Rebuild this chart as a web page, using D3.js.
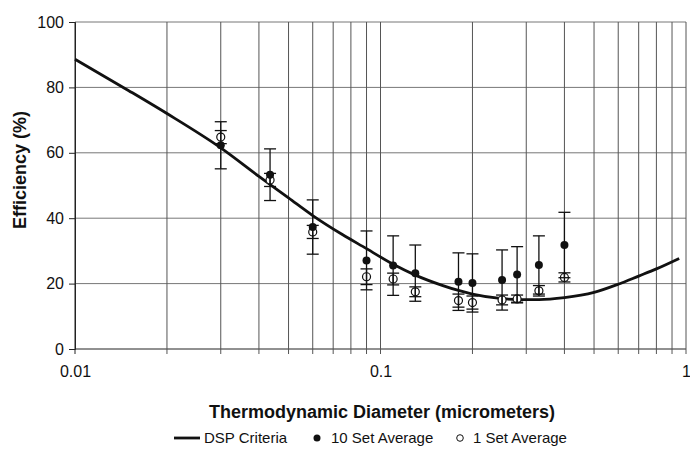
<!DOCTYPE html>
<html>
<head>
<meta charset="utf-8">
<script src="https://cdn.jsdelivr.net/npm/d3@7"></script>
<style>
  body { margin: 0; background: #fff; }
  text { font-family: "Liberation Sans", Arial, sans-serif; }
</style>
</head>
<body>
<script>
'use strict';

// measured particle sizes (micrometers)
const diameters = [0.03, 0.0435, 0.06, 0.09, 0.11, 0.13, 0.18, 0.2, 0.25, 0.28, 0.33, 0.4];
// 10 set average and its error bar half-height
const tenSetAvg = [62.3, 53.3, 37.3, 27.1, 25.5, 23.2, 20.6, 20.2, 21.1, 22.8, 25.7, 31.8];
const tenSetErr = [7.2, 7.9, 8.3, 9, 9.1, 8.6, 8.8, 8.9, 9.2, 8.5, 8.9, 10];
// 1 set average and its error bar half-height
const oneSetAvg = [64.8, 51.7, 35.8, 22.1, 21.4, 17.5, 14.8, 14.2, 15, 15.3, 17.8, 21.9];
const oneSetErr = [2, 2, 2, 2.4, 1.8, 1.5, 2, 2, 1.5, 1.2, 1.6, 1.4];
// DSP criteria curve
const dspDiameter = [0.01, 0.015, 0.02, 0.03, 0.04, 0.05, 0.06, 0.075, 0.09, 0.11, 0.13, 0.16, 0.18, 0.2, 0.25, 0.28, 0.33, 0.4, 0.5, 0.6, 0.7, 0.8, 0.95];
const dspEfficiency = [88.6, 79, 72, 61.5, 52.8, 46.2, 40.8, 35, 30.7, 25.9, 22.6, 19.4, 17.9, 16.8, 15.4, 15.1, 15.1, 15.7, 17.3, 19.8, 22.3, 24.5, 27.7];
// axis ticks
const yTicks = [0, 20, 40, 60, 80, 100];
const xLabels = [0.01, 0.1, 1];

(function() {

  let svgContainer = "";

  window.onload = function() {
    svgContainer = d3.select('body')
      .append('svg')
      .attr('width', 690)
      .attr('height', 449);
    let map = drawTicks();
    plotData(map);
    drawLegend();
  }

  // gridlines, axes and labels
  function drawTicks() {
    let xScale = d3.scaleLog().domain([0.01, 1]).range([75, 686]);
    let yScale = d3.scaleLinear().domain([0, 100]).range([349, 22]);

    // every 1..9 inside each decade
    let xGrid = [];
    [0.01, 0.1].forEach(d => { for (let i = 1; i <= 9; i++) xGrid.push(d * i); });
    xGrid.push(1);

    svgContainer.append('g').selectAll('line')
      .data(yTicks)
      .enter().append('line')
        .attr('x1', xScale(0.01)).attr('x2', xScale(1))
        .attr('y1', d => yScale(d)).attr('y2', d => yScale(d))
        .attr('stroke', d => d === 0 ? '#222' : '#777')
        .attr('stroke-width', 1);

    svgContainer.append('g').selectAll('line')
      .data(xGrid)
      .enter().append('line')
        .attr('x1', d => xScale(d)).attr('x2', d => xScale(d))
        .attr('y1', yScale(100)).attr('y2', yScale(0) + 5)
        .attr('stroke', (d, i) => i === 0 ? '#222' : '#555')
        .attr('stroke-width', 1);

    // y axis with outward ticks
    let yAxis = d3.axisLeft(yScale).tickValues(yTicks).tickSize(6).tickPadding(5);
    let yg = svgContainer.append('g')
      .attr('transform', 'translate(' + xScale(0.01) + ',0)')
      .call(yAxis);
    yg.select('.domain').attr('stroke', '#222');
    yg.selectAll('.tick line').attr('stroke', '#222');
    yg.selectAll('text').attr('font-size', 16).attr('fill', '#111')
      .style('font-family', '"Liberation Sans", Arial, sans-serif');

    // x labels
    let xAxis = d3.axisBottom(xScale).tickValues(xLabels).tickSize(0).tickPadding(17)
      .tickFormat(d3.format('~g'));
    let xg = svgContainer.append('g')
      .attr('transform', 'translate(0,' + yScale(0) + ')')
      .call(xAxis);
    xg.select('.domain').remove();
    xg.selectAll('text').attr('font-size', 16).attr('fill', '#111')
      .style('font-family', '"Liberation Sans", Arial, sans-serif');

    svgContainer.append('text')
      .attr('x', 382).attr('y', 418)
      .attr('text-anchor', 'middle')
      .attr('font-size', 18).attr('font-weight', 'bold').attr('fill', '#111')
      .text('Thermodynamic Diameter (micrometers)');

    svgContainer.append('text')
      .attr('transform', 'translate(26,170) rotate(-90)')
      .attr('text-anchor', 'middle')
      .attr('font-size', 18).attr('font-weight', 'bold').attr('fill', '#111')
      .text('Efficiency (%)');

    return { x: xScale, y: yScale };
  }

  // curve, error bars and markers
  function plotData(map) {
    let x = map.x, y = map.y;

    let line = d3.line()
      .x((d, i) => x(dspDiameter[i]))
      .y(d => y(d))
      .curve(d3.curveMonotoneX);

    svgContainer.append('path')
      .datum(dspEfficiency)
      .attr('d', line)
      .attr('fill', 'none')
      .attr('stroke', '#111')
      .attr('stroke-width', 2.8);

    // open circles go under the error bars so the bar shows through them
    svgContainer.append('g').selectAll('circle')
      .data(oneSetAvg)
      .enter().append('circle')
        .attr('cx', (d, i) => x(diameters[i]))
        .attr('cy', d => y(d))
        .attr('r', 4)
        .attr('fill', '#fff')
        .attr('stroke', '#111')
        .attr('stroke-width', 1.2);

    function errorBars(vals, errs) {
      let g = svgContainer.append('g').attr('stroke', '#111').attr('stroke-width', 1.3);
      diameters.forEach((d, i) => {
        let cx = x(d), top = y(vals[i] + errs[i]), bot = y(vals[i] - errs[i]);
        g.append('line').attr('x1', cx).attr('x2', cx).attr('y1', top).attr('y2', bot);
        g.append('line').attr('x1', cx - 6).attr('x2', cx + 6).attr('y1', top).attr('y2', top);
        g.append('line').attr('x1', cx - 6).attr('x2', cx + 6).attr('y1', bot).attr('y2', bot);
      });
    }
    errorBars(tenSetAvg, tenSetErr);
    errorBars(oneSetAvg, oneSetErr);

    svgContainer.append('g').selectAll('circle')
      .data(tenSetAvg)
      .enter().append('circle')
        .attr('cx', (d, i) => x(diameters[i]))
        .attr('cy', d => y(d))
        .attr('r', 4)
        .attr('fill', '#111');
  }

  function drawLegend() {
    let g = svgContainer.append('g').attr('font-size', 15).attr('fill', '#111');
    g.append('line').attr('x1', 174).attr('x2', 200).attr('y1', 438).attr('y2', 438)
      .attr('stroke', '#111').attr('stroke-width', 2.8);
    g.append('text').attr('x', 204).attr('y', 443).text('DSP Criteria');
    g.append('circle').attr('cx', 317).attr('cy', 438).attr('r', 3.5).attr('fill', '#111');
    g.append('text').attr('x', 331).attr('y', 443).text('10 Set Average');
    g.append('circle').attr('cx', 460).attr('cy', 438).attr('r', 3.3)
      .attr('fill', '#fff').attr('stroke', '#111').attr('stroke-width', 1);
    g.append('text').attr('x', 473).attr('y', 443).text('1 Set Average');
  }
})();
</script>
</body>
</html>
